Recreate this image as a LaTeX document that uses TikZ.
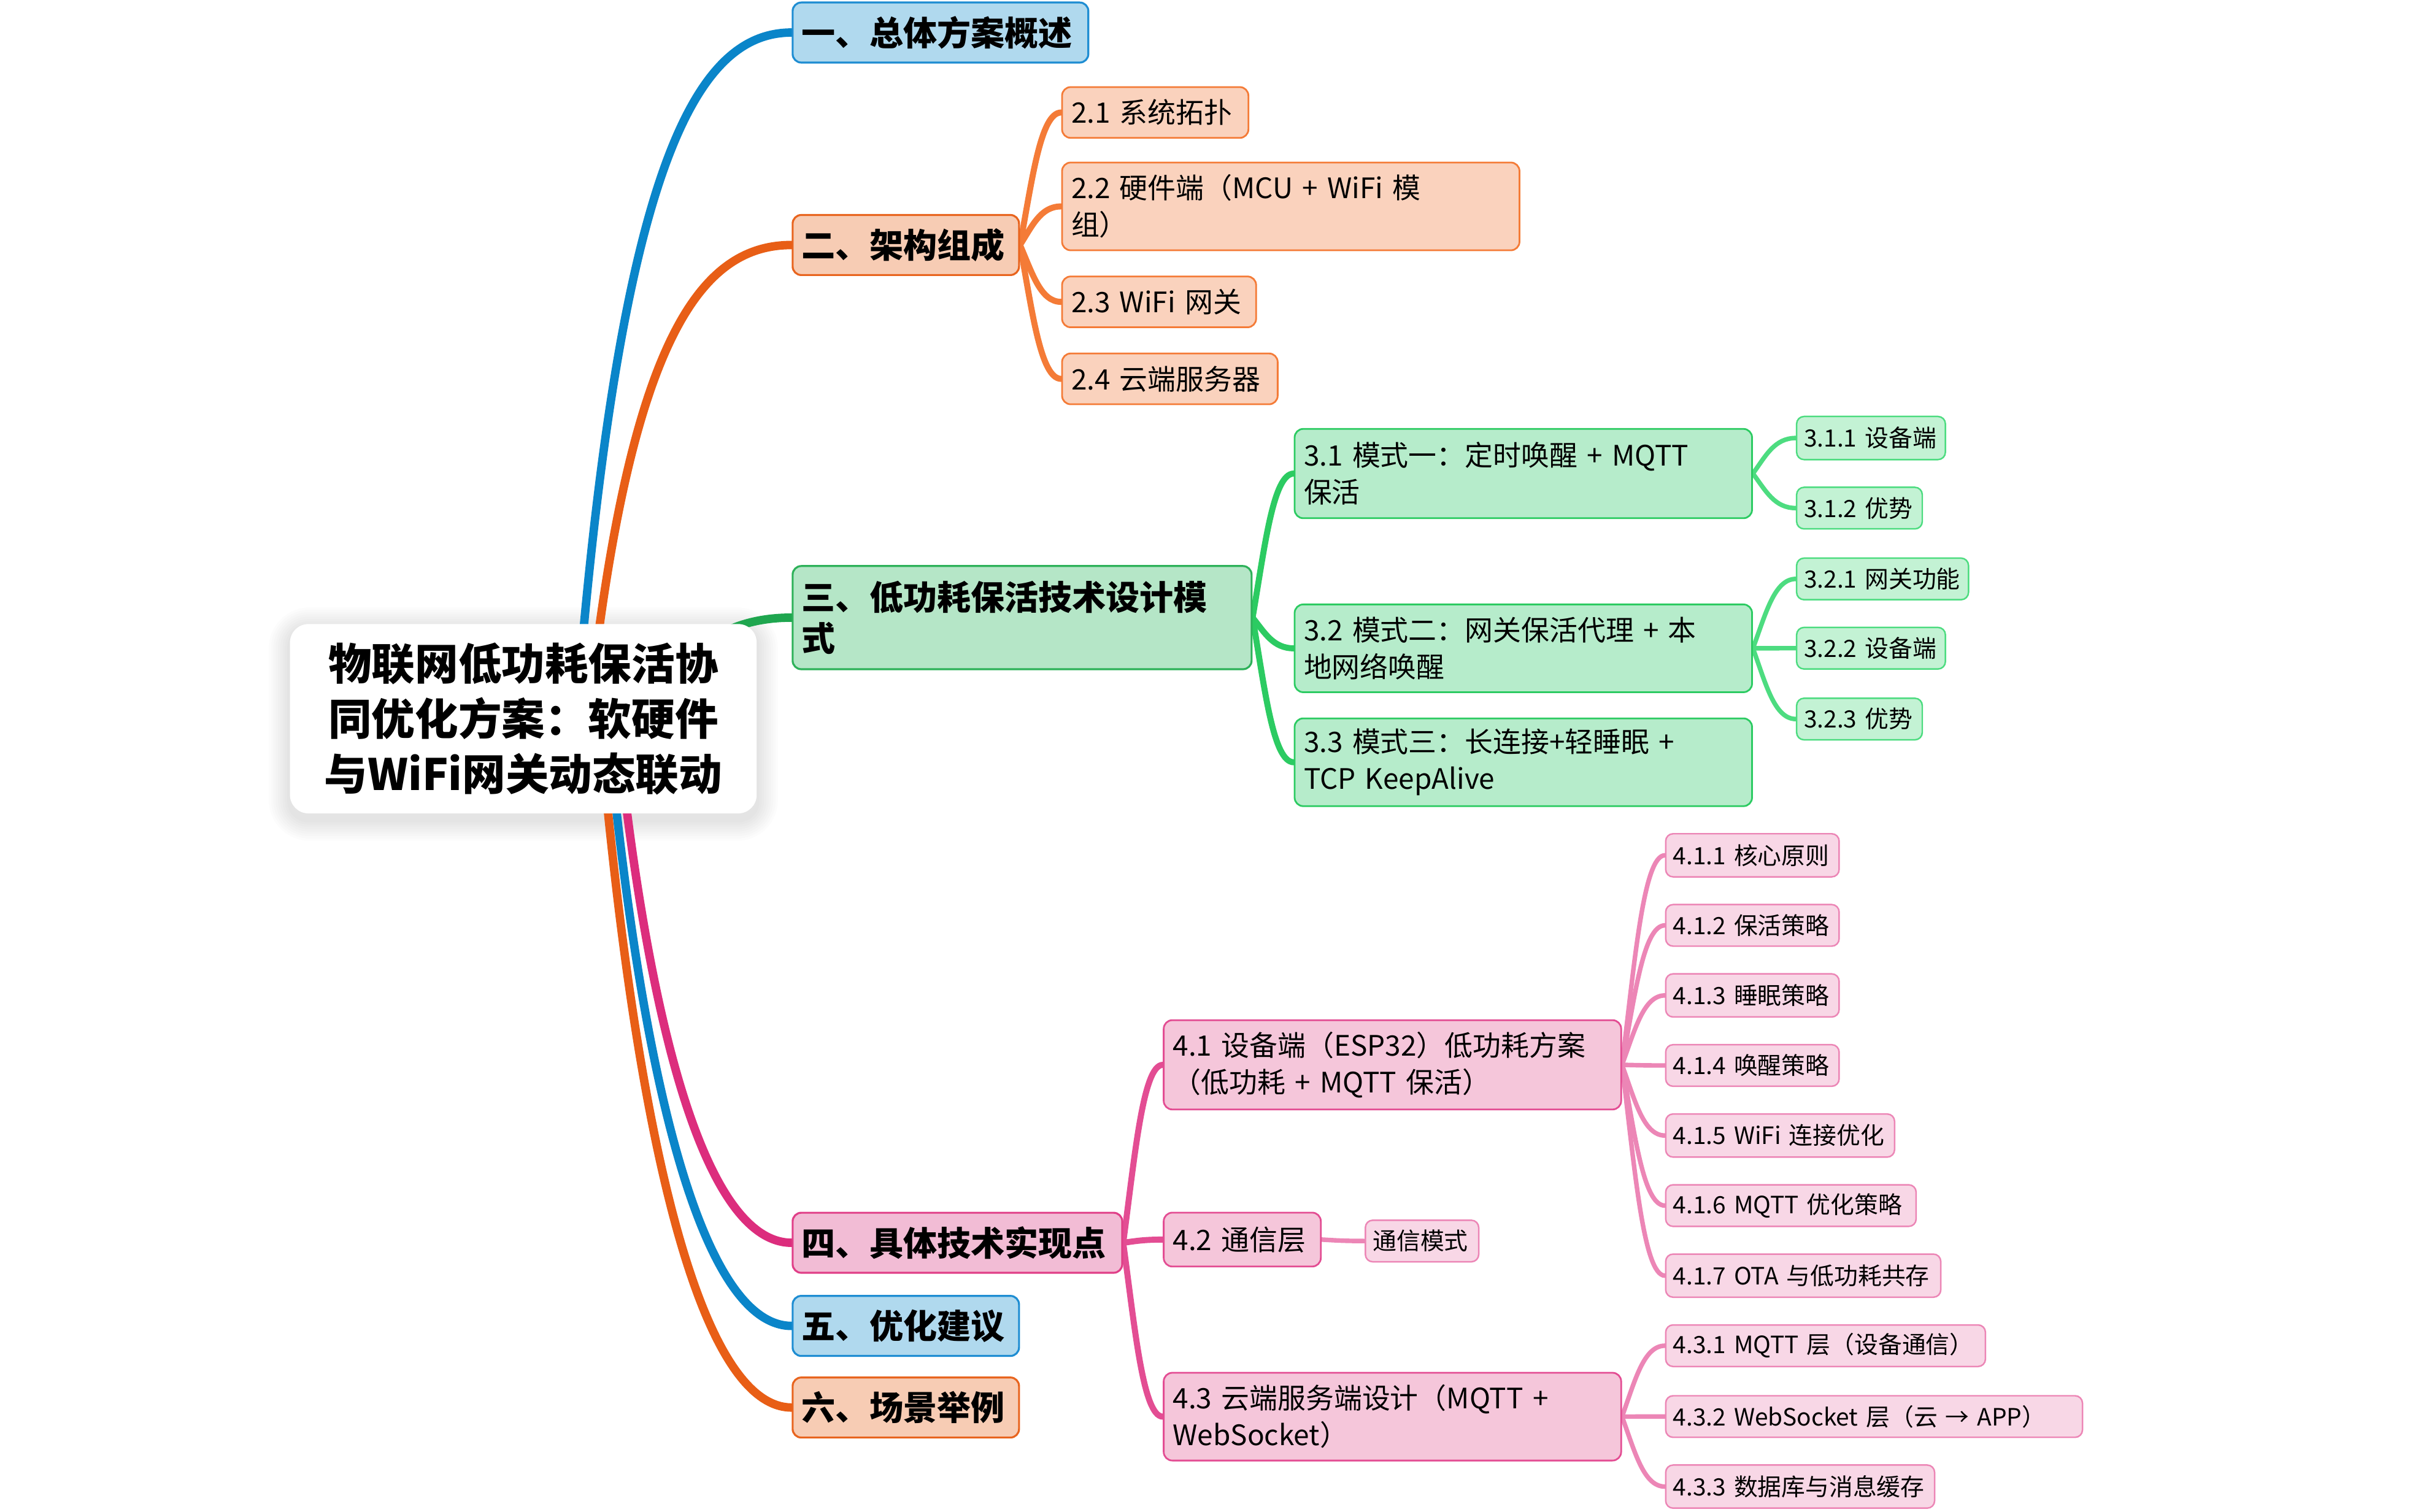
\documentclass[tikz,border=0pt]{standalone}
\usepackage{fontspec}
\setmainfont{Noto Sans CJK SC}
\usetikzlibrary{calc}
\pgfdeclarelayer{background}
\pgfdeclarelayer{shadow}
\pgfsetlayers{shadow,background,main}
\definecolor{blueL}{HTML}{0A85C9}
\definecolor{blueF}{HTML}{B0D9EE}
\definecolor{blueD}{HTML}{1E8DD2}
\definecolor{orgL}{HTML}{E85E16}
\definecolor{orgF}{HTML}{F7CCB4}
\definecolor{orgD}{HTML}{E8641E}
\definecolor{grnL}{HTML}{1FA64F}
\definecolor{grnF}{HTML}{B5E6C7}
\definecolor{grnD}{HTML}{2DB159}
\definecolor{pnkL}{HTML}{DC2D7D}
\definecolor{pnkF}{HTML}{F2BCD5}
\definecolor{pnkD}{HTML}{E03F88}
\definecolor{orgtwoL}{HTML}{F47B37}
\definecolor{orgtwoF}{HTML}{FAD2BD}
\definecolor{grntwoL}{HTML}{2CCB62}
\definecolor{grntwoF}{HTML}{B6ECCB}
\definecolor{pnktwoL}{HTML}{E34D93}
\definecolor{pnktwoF}{HTML}{F5C6DA}
\definecolor{grnthrL}{HTML}{4DDC80}
\definecolor{grnthrF}{HTML}{C3F2D4}
\definecolor{pnkthrL}{HTML}{EC86B6}
\definecolor{pnkthrF}{HTML}{F8D7E6}
% box: style, name, x1, y1, x2, y2, text
\newcommand\bx[7]{\node[#1, anchor=north west, text width={(#5-#3)*0.025cm-0.3cm}, minimum height={(#6-#4)*0.025cm}] (#2) at (#3,#4) {\mbox{#7}};}
\newcommand\bxm[7]{\node[#1, anchor=north west, text width={(#5-#3)*0.025cm-0.3cm}, minimum height={(#6-#4)*0.025cm}] (#2) at (#3,#4) {#7};}
% connector parent->child
\newcommand\cn[3]{\draw[#1] let \p1=(#2), \p2=(#3) in (\p1) .. controls ({\x1+0.3*(\x2-\x1)},{\y1+0.5*(\y2-\y1)}) and ({\x1+0.5*(\x2-\x1)},{\y2}) .. (\p2);}
% root connector: style, start, end, a, b, c
\newcommand\rc[6]{\draw[#1] let \p1=(#2), \p2=(#3) in (\p1) .. controls ({\x1+#4*(\x2-\x1)},{\y1+#5*(\y2-\y1)}) and ({\x1+#6*(\x2-\x1)},{\y2}) .. (\p2);}
\begin{document}
\begin{tikzpicture}[x=0.025cm,y=-0.025cm,
  every node/.style={inner xsep=0.15cm, inner ysep=0pt, text=black},
  rootbox/.style={fill=white, rounded corners=0.3cm, align=center,
    font=\bfseries\fontsize{20pt}{25.5pt}\selectfont},
  lone/.style={draw=#1D, fill=#1F, line width=0.9pt, rounded corners=0.14cm, align=left,
    font=\bfseries\fontsize{15.6pt}{19pt}\selectfont},
  ltwo/.style={draw=#1L, fill=#1F, line width=0.8pt, rounded corners=0.14cm, align=left,
    font=\fontsize{13pt}{17pt}\selectfont},
  lthr/.style={draw=#1L, fill=#1F, line width=0.7pt, rounded corners=0.12cm, align=left,
    inner xsep=0.12cm, font=\fontsize{11pt}{14pt}\selectfont},
  cone/.style={draw=#1, line width=3.9pt, line cap=round},
  ctwo/.style={draw=#1, line width=2.8pt, line cap=round},
  cthr/.style={draw=#1, line width=2.1pt, line cap=round}
]
\path[use as bounding box] (0,0) rectangle (1568,981.7);

% root
\bxm{rootbox}{root}{188}{405}{491}{528}{物联网低功耗保活协\\同优化方案：软硬件\\与WiFi网关动态联动}
\coordinate (r1) at (374,466);
\coordinate (r2) at (382,466);
\coordinate (r3) at (430,440);
\coordinate (r4) at (400,466);
\coordinate (r5) at (394,466);
\coordinate (r6) at (389,466);

% level 1
\bx{lone=blue}{n1}{514}{1}{706}{40}{一、总体方案概述}
\bx{lone=org}{n2}{514}{139}{661}{178}{二、架构组成}
\bxm{lone=grn}{n3}{514}{367}{812}{434}{三、低功耗保活技术设计模\\式}
\bx{lone=pnk}{n4}{514}{787}{728}{826}{四、具体技术实现点}
\bx{lone=blue}{n5}{514}{841}{661}{880}{五、优化建议}
\bx{lone=org}{n6}{514}{894}{661}{933}{六、场景举例}

% level 2
\bx{ltwo=orgtwo}{a1}{689}{56}{810}{89}{2.1 系统拓扑}
\bxm{ltwo=orgtwo}{a2}{689}{105}{986}{162}{2.2 硬件端（MCU + WiFi 模\\组）}
\bx{ltwo=orgtwo}{a3}{689}{179}{815}{212}{2.3 WiFi 网关}
\bx{ltwo=orgtwo}{a4}{689}{229}{829}{262}{2.4 云端服务器}

\bxm{ltwo=grntwo}{b1}{840}{278}{1137}{336}{3.1 模式一：定时唤醒 + MQTT\\保活}
\bxm{ltwo=grntwo}{b2}{840}{392}{1137}{449}{3.2 模式二：网关保活代理 + 本\\地网络唤醒}
\bxm{ltwo=grntwo}{b3}{840}{466}{1137}{523}{3.3 模式三：长连接+轻睡眠 +\\TCP KeepAlive}

\bxm{ltwo=pnktwo}{d1}{755}{662}{1052}{720}{4.1 设备端（ESP32）低功耗方案\\（低功耗 + MQTT 保活）}
\bx{ltwo=pnktwo}{d2}{755}{787}{857}{822}{4.2 通信层}
\bxm{ltwo=pnktwo}{d3}{755}{891}{1052}{948}{4.3 云端服务端设计（MQTT +\\WebSocket）}

% level 3
\bx{lthr=grnthr}{b11}{1166}{270}{1265}{298}{3.1.1 设备端}
\bx{lthr=grnthr}{b12}{1166}{316}{1250}{343}{3.1.2 优势}
\bx{lthr=grnthr}{b21}{1166}{362}{1280}{389}{3.2.1 网关功能}
\bx{lthr=grnthr}{b22}{1166}{407}{1265}{434}{3.2.2 设备端}
\bx{lthr=grnthr}{b23}{1166}{453}{1250}{480}{3.2.3 优势}

\bx{lthr=pnkthr}{d11}{1081}{541}{1196}{569}{4.1.1 核心原则}
\bx{lthr=pnkthr}{d12}{1081}{587}{1196}{614}{4.1.2 保活策略}
\bx{lthr=pnkthr}{d13}{1081}{632}{1196}{660}{4.1.3 睡眠策略}
\bx{lthr=pnkthr}{d14}{1081}{678}{1196}{705}{4.1.4 唤醒策略}
\bx{lthr=pnkthr}{d15}{1081}{723}{1232}{751}{4.1.5 WiFi 连接优化}
\bx{lthr=pnkthr}{d16}{1081}{769}{1246}{796}{4.1.6 MQTT 优化策略}
\bx{lthr=pnkthr}{d17}{1081}{814}{1262}{842}{4.1.7 OTA 与低功耗共存}
\bx{lthr=pnkthr}{d21}{886}{792}{962}{819}{通信模式}
\bx{lthr=pnkthr}{d31}{1081}{860}{1291}{887}{4.3.1 MQTT 层（设备通信）}
\bx{lthr=pnkthr}{d32}{1081}{906}{1354}{933}{4.3.2 WebSocket 层（云 → APP）}
\bx{lthr=pnkthr}{d33}{1081}{951}{1258}{979}{4.3.3 数据库与消息缓存}

\begin{pgfonlayer}{shadow}
\foreach \i in {1,...,9} {
  \fill[black, opacity=0.01, rounded corners={(0.3+0.04*\i)*1cm}]
    ($(root.south west)+(-1.5*\i,1.5*\i+4)$) rectangle ($(root.north east)+(1.5*\i,-1.5*\i+3)$);
}
\end{pgfonlayer}

\begin{pgfonlayer}{background}
\rc{cone=blueL}{r1}{n1.west}{0.2}{0.8}{0.55}
\rc{cone=orgL}{r2}{n2.west}{0.2}{0.8}{0.55}
\rc{cone=grnL}{r3}{n3.west}{0.3}{0.6}{0.55}
\rc{cone=pnkL}{r4}{n4.west}{0.2}{0.65}{0.55}
\rc{cone=blueL}{r5}{n5.west}{0.2}{0.65}{0.55}
\rc{cone=orgL}{r6}{n6.west}{0.2}{0.65}{0.55}

\foreach \c in {a1,a2,a3,a4} {\cn{ctwo=orgtwoL}{n2.east}{\c.west}}
\foreach \c in {b1,b2,b3} {\cn{ctwo=grntwoL}{n3.east}{\c.west}}
\foreach \c in {d1,d2,d3} {\cn{ctwo=pnktwoL}{n4.east}{\c.west}}
\foreach \c in {b11,b12} {\cn{cthr=grnthrL}{b1.east}{\c.west}}
\foreach \c in {b21,b22,b23} {\cn{cthr=grnthrL}{b2.east}{\c.west}}
\foreach \c in {d11,d12,d13,d14,d15,d16,d17} {\cn{cthr=pnkthrL}{d1.east}{\c.west}}
\cn{cthr=pnkthrL}{d2.east}{d21.west}
\foreach \c in {d31,d32,d33} {\cn{cthr=pnkthrL}{d3.east}{\c.west}}
\end{pgfonlayer}
\end{tikzpicture}
\end{document}
